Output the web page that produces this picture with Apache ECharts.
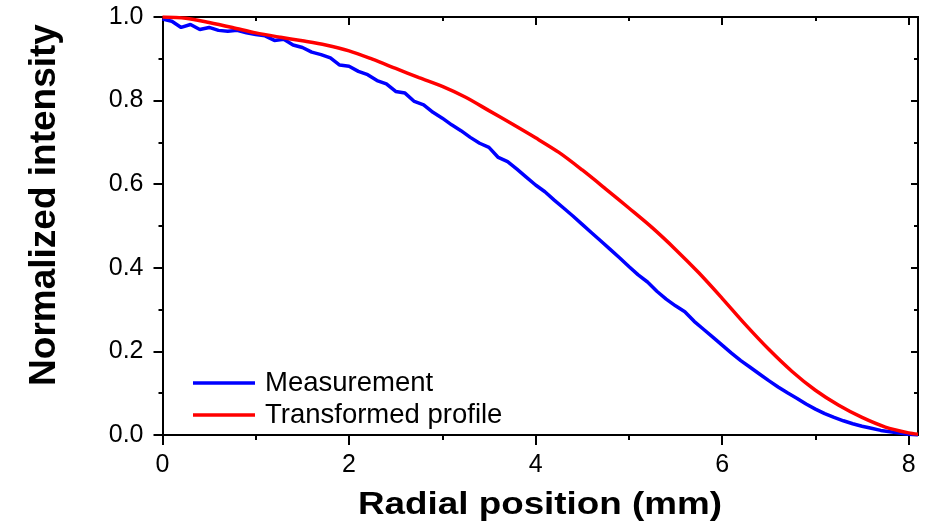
<!DOCTYPE html>
<html>
<head>
<meta charset="utf-8">
<script src="https://cdn.jsdelivr.net/npm/echarts@6/dist/echarts.min.js"></script>
<style>
html,body{margin:0;padding:0;background:#fff;}
#chart{width:927px;height:528px;}
</style>
</head>
<body>
<div id="chart"></div>
<script>
// Measurement (blue), sampled every 0.1 mm
const measX = [0,0.1,0.2,0.3,0.4,0.5,0.6,0.7,0.8,0.9,1.0,1.1,1.2,1.3,1.4,1.5,1.6,1.7,1.8,1.9,2.0,2.1,2.2,2.3,2.4,2.5,2.6,2.7,2.8,2.9,3.0,3.1,3.2,3.3,3.4,3.5,3.6,3.7,3.8,3.9,4.0,4.1,4.2,4.3,4.4,4.5,4.6,4.7,4.8,4.9,5.0,5.1,5.2,5.3,5.4,5.5,5.6,5.7,5.8,5.9,6.0,6.1,6.2,6.3,6.4,6.5,6.6,6.7,6.8,6.9,7.0,7.1,7.2,7.3,7.4,7.5,7.6,7.7,7.8,7.9,8.0,8.1];
const measY = [0.995,0.99,0.975,0.982,0.97,0.975,0.968,0.966,0.968,0.962,0.958,0.955,0.944,0.947,0.933,0.927,0.916,0.91,0.902,0.885,0.882,0.87,0.862,0.848,0.84,0.822,0.818,0.798,0.79,0.772,0.758,0.742,0.728,0.712,0.698,0.688,0.664,0.654,0.636,0.617,0.598,0.582,0.562,0.543,0.524,0.504,0.484,0.464,0.444,0.424,0.403,0.383,0.366,0.344,0.325,0.309,0.295,0.272,0.253,0.234,0.215,0.196,0.178,0.162,0.146,0.130,0.115,0.101,0.088,0.074,0.062,0.051,0.042,0.034,0.027,0.021,0.016,0.011,0.008,0.005,0.002,0.0];
// Transformed profile (red)
const profX = [0,0.25,0.5,0.75,1.0,1.25,1.5,1.75,2.0,2.25,2.5,2.75,3.0,3.25,3.5,3.75,4.0,4.25,4.5,4.75,5.0,5.25,5.5,5.75,6.0,6.25,6.5,6.75,7.0,7.25,7.5,7.75,8.0,8.1];
const profY = [1.0,0.997,0.987,0.975,0.962,0.952,0.943,0.933,0.919,0.899,0.877,0.855,0.834,0.808,0.776,0.744,0.711,0.676,0.634,0.589,0.543,0.496,0.444,0.388,0.327,0.264,0.205,0.152,0.107,0.071,0.042,0.019,0.005,0.002];
const xMajorTicks = [0,2,4,6,8];
const xMinorTicks = [1,3,5,7];
const seriesNames = ['Measurement','Transformed profile'];
const xTitle = 'Radial position (mm)';
const yTitle = 'Normalized intensity';

const chart = echarts.init(document.getElementById('chart'), null, {renderer:'canvas'});
const FONT = 'Liberation Sans, Arial, sans-serif';
const lineSty = {color:'#000', width:2};
const gridPos = {left:162.5, right:9, top:17, bottom:93};
function xAx(opts){
  return Object.assign({
    type:'value', min:0, max:8.1, gridIndex:0,
    splitLine:{show:false},
    axisLine:{show:true, onZero:false, lineStyle:lineSty},
    axisLabel:{show:false},
    axisTick:{show:true, lineStyle:{color:'#000', width:2}}
  }, opts);
}
const option = {
  animation:false,
  backgroundColor:'#fff',
  grid: gridPos,
  legend:{
    data:seriesNames, orient:'vertical', left:193, top:368, padding:0,
    icon:'rect', itemWidth:62, itemHeight:3.5, itemGap:2,
    textStyle:{fontFamily:FONT, fontSize:27.5, color:'#000', lineHeight:30, padding:[0,0,0,5]}
  },
  xAxis:[
    xAx({position:'bottom',
      axisLabel:{show:true, customValues:xMajorTicks, margin:18, fontFamily:FONT, fontSize:25, color:'#000'},
      axisTick:{show:true, customValues:xMajorTicks, length:10, lineStyle:{color:'#000', width:2}}}),
    xAx({position:'bottom',
      axisTick:{show:true, customValues:xMinorTicks, length:5, lineStyle:{color:'#000', width:2}}}),
    xAx({position:'top',
      axisTick:{show:true, inside:true, customValues:[2,4,6,8], length:8, lineStyle:{color:'#000', width:2}}}),
    xAx({position:'top',
      axisTick:{show:true, inside:true, customValues:xMinorTicks, length:4, lineStyle:{color:'#000', width:2}}})
  ],
  yAxis:[
    {type:'value', min:0, max:1, interval:0.2, position:'left',
      splitLine:{show:false},
      axisLine:{show:true, onZero:false, lineStyle:lineSty},
      axisLabel:{show:true, margin:19, fontFamily:FONT, fontSize:25, color:'#000', formatter:v=>v.toFixed(1)},
      axisTick:{show:true, length:9, lineStyle:{color:'#000', width:2}},
      minorTick:{show:true, splitNumber:2, length:4, lineStyle:{color:'#000', width:2}}
    },
    {type:'value', min:0, max:1, interval:0.2, position:'right',
      splitLine:{show:false},
      axisLine:{show:true, onZero:false, lineStyle:lineSty},
      axisLabel:{show:false},
      axisTick:{show:true, inside:true, length:7, lineStyle:{color:'#000', width:2}},
      minorTick:{show:true, splitNumber:2, length:4, lineStyle:{color:'#000', width:2}}
    }
  ],
  graphic:[
    {type:'text', x:540, y:505, scaleX:1.15,
      style:{text:xTitle, font:'bold 32px ' + FONT, fill:'#000', align:'center', verticalAlign:'middle'}},
    {type:'text', x:45, y:205, rotation:Math.PI/2,
      style:{text:yTitle, font:'bold 37px ' + FONT, fill:'#000', align:'center', verticalAlign:'middle'}}
  ],
  series:[
    {name:seriesNames[0], type:'line', xAxisIndex:0, yAxisIndex:0, showSymbol:false, symbol:'none',
      color:'#0000ff', lineStyle:{width:3.5, color:'#0000ff'}, z:3,
      data: measX.map((x,i)=>[x, measY[i]])},
    {name:seriesNames[1], type:'line', xAxisIndex:0, yAxisIndex:0, showSymbol:false, symbol:'none', smooth:0.3,
      color:'#ff0000', lineStyle:{width:3.5, color:'#ff0000'}, z:4,
      data: profX.map((x,i)=>[x, profY[i]])}
  ]
};
chart.setOption(option);
</script>
</body>
</html>
